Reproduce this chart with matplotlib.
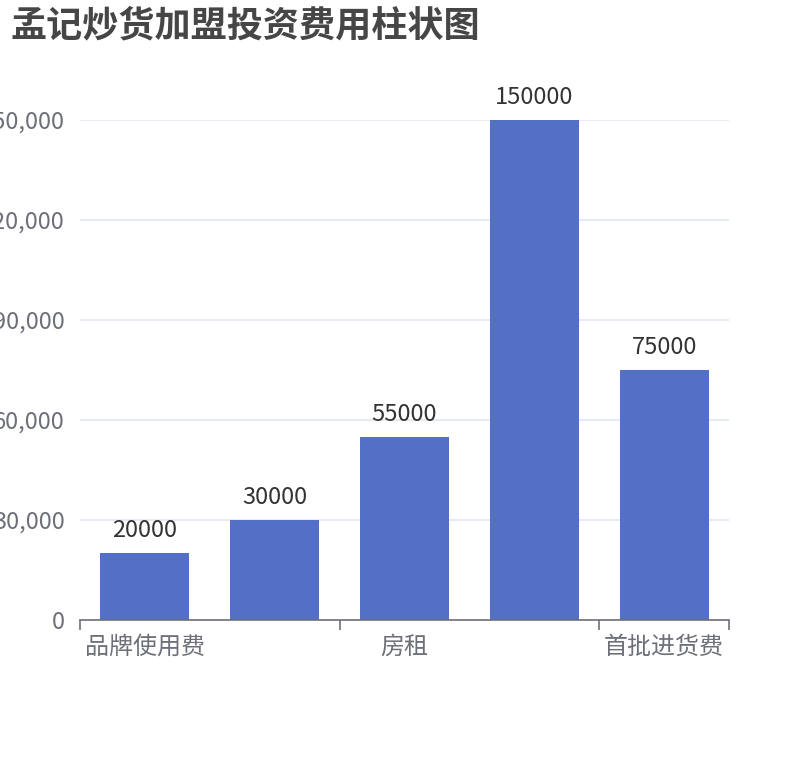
import matplotlib
matplotlib.use("Agg")
import matplotlib.pyplot as plt

plt.rcParams['font.family'] = ['Noto Sans CJK SC', 'DejaVu Sans']

# data
categories = ['品牌使用费', '加盟费', '房租', '装修费', '首批进货费']
values = [20000, 30000, 55000, 150000, 75000]
shown_labels = {0: '品牌使用费', 2: '房租', 4: '首批进货费'}
y_ticks = [0, 30000, 60000, 90000, 120000, 150000]

fig = plt.figure(figsize=(8.1, 7.6), dpi=100)
ax = fig.add_axes([80 / 810, 140 / 760, 649 / 810, 500 / 760])

x = list(range(len(categories)))
bars = ax.bar(x, values, width=0.686, color='#5470c6', zorder=3)

for xi, v in zip(x, values):
    ax.annotate(str(v), (xi, v), xytext=(0, 8), textcoords='offset points',
                ha='center', va='bottom', fontsize=17, color='#333333')

ax.set_xlim(-0.5, len(categories) - 0.5)
ax.set_ylim(0, 150000)
ax.set_yticks(y_ticks)
ax.set_yticklabels(['{:,}'.format(t) for t in y_ticks], fontsize=17, color='#6E7079')
ax.tick_params(axis='y', length=0, pad=11)
ax.yaxis.grid(True, color='#E0E6F1', linewidth=1.2, zorder=0)

# category ticks on boundaries every 2 categories, labels at centres
ax.set_xticks([-0.5, 1.5, 3.5, 4.5])
ax.set_xticklabels([])
ax.tick_params(axis='x', length=7, width=1.2, color='#6E7079', direction='out')
for i, name in shown_labels.items():
    ax.text(i, -0.028, name, transform=ax.get_xaxis_transform(), ha='center', va='top',
            fontsize=17.3, color='#6E7079')

for s in ['top', 'right', 'left']:
    ax.spines[s].set_visible(False)
ax.spines['bottom'].set_color('#6E7079')
ax.spines['bottom'].set_linewidth(1.2)
ax.spines['bottom'].set_zorder(4)

fig.text(10 / 810, 1 - 26 / 760, '孟记炒货加盟投资费用柱状图', fontsize=26, fontweight='bold',
         color='#464646', ha='left', va='center')

fig.savefig('out.png', dpi=100)
